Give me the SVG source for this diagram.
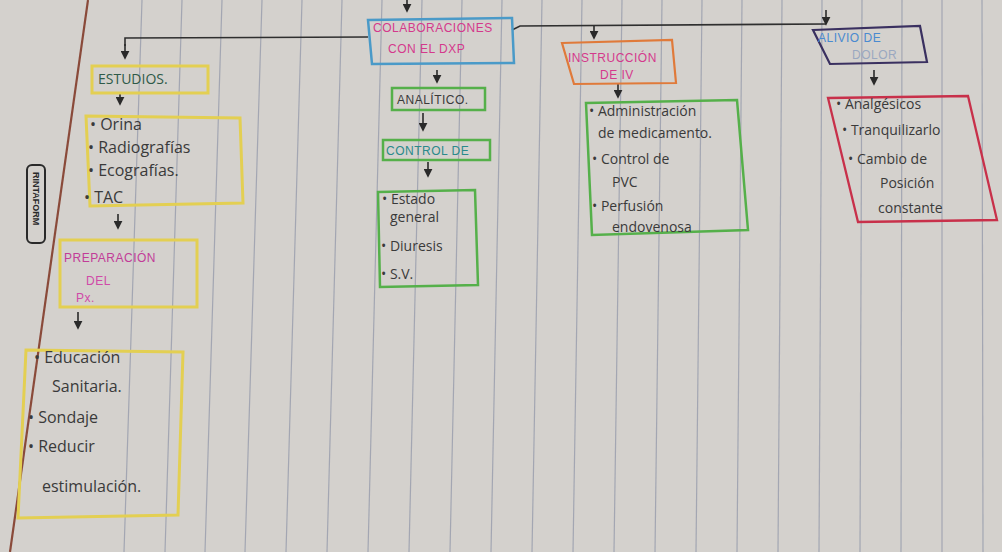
<svg xmlns="http://www.w3.org/2000/svg" width="1002" height="552" viewBox="0 0 1002 552">
<defs>
<marker id="ah" viewBox="0 0 10 10" refX="8" refY="5" markerWidth="9" markerHeight="9" orient="auto" markerUnits="userSpaceOnUse">
<path d="M0,0 L10,5 L0,10 Z" fill="#2a2a2a"/>
</marker>
<style>
.paper{fill:#d4d1cd}
.rule{stroke:#8f95a8;stroke-width:1.2;opacity:.7}
.t{font-family:"Open Sans","Liberation Sans",sans-serif;fill:#3a3a3a}
.hd{font-family:"Liberation Sans",sans-serif;font-size:12px;letter-spacing:.5px}
.ln{stroke:#2f2f2f;stroke-width:1.6;fill:none}
.ar{stroke:#2a2a2a;stroke-width:1.6;fill:none;marker-end:url(#ah)}
.yb{fill:none;stroke:#e3cf52;stroke-width:3}
.gb{fill:none;stroke:#55b04a;stroke-width:2.5}
</style>
</defs>
<rect class="paper" x="0" y="0" width="1002" height="552"/>
<g id="paper-rules">
<line class="rule" x1="142" y1="0" x2="124" y2="552"/>
<line class="rule" x1="182" y1="0" x2="165" y2="552"/>
<line class="rule" x1="222" y1="0" x2="205" y2="552"/>
<line class="rule" x1="262" y1="0" x2="245" y2="552"/>
<line class="rule" x1="302" y1="0" x2="286" y2="552"/>
<line class="rule" x1="342" y1="0" x2="327" y2="552"/>
<line class="rule" x1="382" y1="0" x2="368" y2="552"/>
<line class="rule" x1="422" y1="0" x2="409" y2="552"/>
<line class="rule" x1="462" y1="0" x2="450" y2="552"/>
<line class="rule" x1="502" y1="0" x2="491" y2="552"/>
<line class="rule" x1="542" y1="0" x2="532" y2="552"/>
<line class="rule" x1="582" y1="0" x2="573" y2="552"/>
<line class="rule" x1="622" y1="0" x2="614" y2="552"/>
<line class="rule" x1="662" y1="0" x2="655" y2="552"/>
<line class="rule" x1="702" y1="0" x2="696" y2="552"/>
<line class="rule" x1="742" y1="0" x2="737" y2="552"/>
<line class="rule" x1="782" y1="0" x2="778" y2="552"/>
<line class="rule" x1="822" y1="0" x2="819" y2="552"/>
<line class="rule" x1="862" y1="0" x2="860" y2="552"/>
<line class="rule" x1="902" y1="0" x2="901" y2="552"/>
<line class="rule" x1="942" y1="0" x2="942" y2="552"/>
<line class="rule" x1="982" y1="0" x2="983" y2="552"/>
<line x1="88" y1="0" x2="10" y2="552" stroke="#8a4a3a" stroke-width="2.2"/>
<g id="logo">
<rect x="27" y="165" width="18" height="78" rx="5" fill="none" stroke="#2a2a2a" stroke-width="2"/>
<text x="0" y="0" transform="translate(33,172) rotate(90)" font-family="Liberation Sans,sans-serif" font-size="9" font-weight="bold" fill="#2a2a2a">RINTAFORM</text>
</g>
</g>
<g id="connectors">
<line class="ar" x1="407" y1="0" x2="407" y2="11"/>
<polyline class="ln" points="368,37 125,38 125,46"/>
<line class="ar" x1="125" y1="44" x2="125" y2="58"/>
<polyline class="ln" points="512,30 520,26 826,24"/>
<line class="ar" x1="826" y1="10" x2="826" y2="24"/>
<line class="ar" x1="594" y1="26" x2="594" y2="38"/>
<line class="ar" x1="120" y1="94" x2="120" y2="104"/>
<line class="ar" x1="118" y1="214" x2="118" y2="228"/>
<line class="ar" x1="78" y1="312" x2="78" y2="328"/>
<line class="ar" x1="437" y1="70" x2="437" y2="82"/>
<line class="ar" x1="423" y1="113" x2="423" y2="130"/>
<line class="ar" x1="428" y1="162" x2="428" y2="176"/>
<line class="ar" x1="618" y1="84" x2="618" y2="97"/>
<line class="ar" x1="874" y1="70" x2="874" y2="84"/>
</g>
<g id="n-colaboraciones">
<path d="M368,20 L512,18 L514,63 L372,64 Z" fill="none" stroke="#4a9ac8" stroke-width="2.5"/>
<text class="hd" x="373" y="32" fill="#d4398c">COLABORACIONES</text>
<text class="hd" x="388" y="53" fill="#d4398c">CON EL DXP</text>
</g>
<g id="n-estudios">
<rect class="yb" x="92" y="66" width="116" height="27"/>
<text class="t" x="98" y="84" font-size="14" style="fill:#2f5a48">ESTUDIOS.</text>
</g>
<g id="n-estudios-list">
<path class="yb" d="M86,116 L240,118 L243,203 L90,206 Z"/>
<text class="t" x="90" y="130" font-size="16">• Orina</text>
<text class="t" x="88" y="153" font-size="16">• Radiografías</text>
<text class="t" x="88" y="176" font-size="16">• Ecografías.</text>
<text class="t" x="84" y="203" font-size="16">• TAC</text>
</g>
<g id="n-preparacion">
<rect class="yb" x="60" y="240" width="137" height="67"/>
<text class="hd" x="64" y="262" fill="#c23c98" font-size="13">PREPARACIÓN</text>
<text class="hd" x="86" y="285" fill="#d04aa8" font-size="13">DEL</text>
<text class="hd" x="76" y="302" fill="#d04aa8" font-size="13">Px.</text>
</g>
<g id="n-preparacion-list">
<path class="yb" d="M26,350 L183,352 L178,515 L18,518 Z"/>
<text class="t" x="34" y="363" font-size="16">• Educación</text>
<text class="t" x="52" y="392" font-size="16">Sanitaria.</text>
<text class="t" x="28" y="423" font-size="16">• Sondaje</text>
<text class="t" x="28" y="452" font-size="16">• Reducir</text>
<text class="t" x="42" y="492" font-size="16">estimulación.</text>
</g>
<g id="n-analitico">
<rect class="gb" x="392" y="88" width="93" height="22"/>
<text class="hd" x="397" y="104" fill="#3a3a3a">ANALÍTICO.</text>
</g>
<g id="n-control">
<rect class="gb" x="383" y="140" width="107" height="20"/>
<text class="hd" x="386" y="155" fill="#2a8a8a" font-size="11">CONTROL DE</text>
</g>
<g id="n-control-list">
<path class="gb" d="M378,192 L475,190 L478,285 L380,287 Z"/>
<text class="t" x="382" y="204" font-size="14">• Estado</text>
<text class="t" x="390" y="222" font-size="14">general</text>
<text class="t" x="381" y="251" font-size="14">• Diuresis</text>
<text class="t" x="381" y="279" font-size="14">• S.V.</text>
</g>
<g id="n-instruccion">
<path d="M562,43 L672,40 L676,83 L574,84 Z" fill="none" stroke="#e07a3a" stroke-width="2.2"/>
<text class="hd" x="568" y="62" fill="#d4398c" font-size="11">INSTRUCCIÓN</text>
<text class="hd" x="600" y="79" fill="#d4398c" font-size="11">DE IV</text>
</g>
<g id="n-instruccion-list">
<path class="gb" d="M586,103 L737,100 L748,230 L592,235 Z"/>
<text class="t" x="589" y="116" font-size="14">• Administración</text>
<text class="t" x="598" y="138" font-size="14">de medicamento.</text>
<text class="t" x="592" y="164" font-size="14">• Control de</text>
<text class="t" x="612" y="187" font-size="14">PVC</text>
<text class="t" x="592" y="211" font-size="14">• Perfusión</text>
<text class="t" x="612" y="232" font-size="14">endovenosa</text>
</g>
<g id="n-alivio">
<path d="M813,30 L920,26 L927,62 L830,64 Z" fill="none" stroke="#3a3060" stroke-width="2.2"/>
<text class="hd" x="818" y="42" fill="#4a8ad0" font-size="11">ALIVIO DE</text>
<text class="hd" x="852" y="59" fill="#9aa8c0" font-size="11">DOLOR</text>
</g>
<g id="n-alivio-list">
<path d="M828,98 L968,96 L997,220 L858,222 Z" fill="none" stroke="#c8304a" stroke-width="2.3"/>
<text class="t" x="836" y="109" font-size="14">• Analgésicos</text>
<text class="t" x="842" y="135" font-size="14">• Tranquilizarlo</text>
<text class="t" x="848" y="164" font-size="14">• Cambio de</text>
<text class="t" x="880" y="188" font-size="14">Posición</text>
<text class="t" x="878" y="213" font-size="14">constante</text>
</g>
</svg>
